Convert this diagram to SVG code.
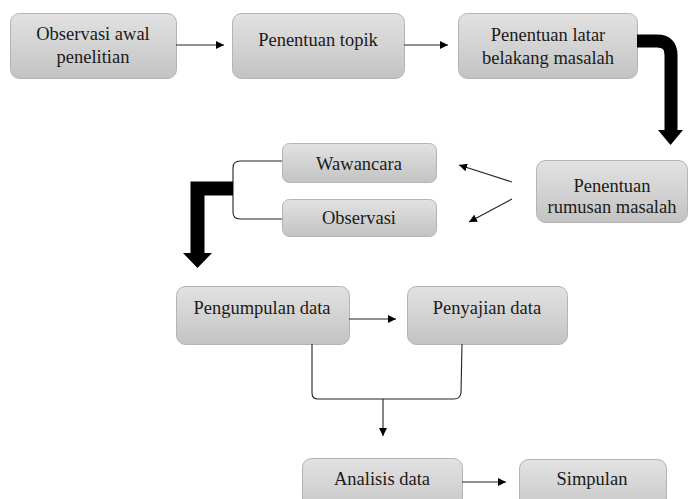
<svg xmlns="http://www.w3.org/2000/svg" width="689" height="499" viewBox="0 0 689 499">
<defs>
<linearGradient id="g" x1="0" y1="0" x2="0" y2="1">
<stop offset="0" stop-color="#e2e2e2"/>
<stop offset="1" stop-color="#c3c3c3"/>
</linearGradient>
<marker id="ah" viewBox="0 0 10 10" refX="10" refY="5" markerWidth="8" markerHeight="8" markerUnits="userSpaceOnUse" orient="auto">
<path d="M0,0 L10,5 L0,10 Z" fill="#000"/>
</marker>
<style>
.box{fill:url(#g);stroke:#b4b4b4;stroke-width:1}
.t{font-family:'Liberation Serif','Tinos','Times New Roman','Noto Serif','DejaVu Serif',serif;font-size:18.5px;fill:#1c1a18;text-anchor:middle}
.ln{fill:none;stroke:#222;stroke-width:1.1}
.arr{fill:none;stroke:#222;stroke-width:1.1;marker-end:url(#ah)}
.thick{fill:none;stroke:#000;stroke-width:13}
</style>
</defs>
<rect width="689" height="499" fill="#fff"/>
<g id="n1"><rect class="box" x="10.5" y="13.5" width="166" height="65" rx="9"/><text class="t" x="93" y="40">Observasi awal</text><text class="t" x="93" y="63">penelitian</text></g>
<g id="n2"><rect class="box" x="232.5" y="13.5" width="172" height="65" rx="9"/><text class="t" x="318" y="46">Penentuan topik</text></g>
<g id="n3"><rect class="box" x="458.5" y="13.5" width="179" height="65" rx="9"/><text class="t" x="548" y="41">Penentuan latar</text><text class="t" x="548" y="64">belakang masalah</text></g>
<g id="n4"><rect class="box" x="536.5" y="160.5" width="151" height="62" rx="9"/><text class="t" x="612" y="192">Penentuan</text><text class="t" x="612" y="213">rumusan masalah</text></g>
<g id="n5"><rect class="box" x="282.5" y="143.5" width="154" height="39" rx="7"/><text class="t" x="359" y="170">Wawancara</text></g>
<g id="n6"><rect class="box" x="282.5" y="199.5" width="154" height="37" rx="7"/><text class="t" x="359" y="224">Observasi</text></g>
<g id="n7"><rect class="box" x="176.5" y="286.5" width="173" height="58" rx="9"/><text class="t" x="262" y="314">Pengumpulan data</text></g>
<g id="n8"><rect class="box" x="407.5" y="286.5" width="160" height="58" rx="9"/><text class="t" x="487" y="314">Penyajian data</text></g>
<g id="n9"><rect class="box" x="302.5" y="458.5" width="160" height="60" rx="9"/><text class="t" x="382" y="485">Analisis data</text></g>
<g id="n10"><rect class="box" x="519.5" y="459.5" width="147" height="60" rx="9"/><text class="t" x="592" y="485">Simpulan</text></g>
<g id="connectors">
<line class="arr" x1="176" y1="45" x2="224" y2="45"/>
<line class="arr" x1="404" y1="45" x2="448" y2="45"/>
<path class="thick" d="M637,41 H657 Q671,41 671,55 V131"/>
<polygon points="658,130 683,130 670.5,145" fill="#000"/>
<line class="arr" x1="512" y1="182" x2="459" y2="165"/>
<line class="arr" x1="512" y1="199" x2="469" y2="222"/>
<path class="ln" d="M282,161 H240 Q233,161 233,168 V212 Q233,219 240,219 H282"/>
<path class="thick" d="M233,188.5 H197.5 V254" stroke-linejoin="miter" style="stroke-width:14"/>
<polygon points="183,253 212,253 197.5,268" fill="#000"/>
<line class="arr" x1="349" y1="319" x2="396" y2="319"/>
<path class="ln" d="M312,344 V393 Q312,399 318,399 H454 Q460,399 461,393 L462,344"/>
<line class="arr" x1="383" y1="399" x2="383" y2="436"/>
<line class="arr" x1="462" y1="482" x2="506" y2="482"/>
</g>
</svg>
